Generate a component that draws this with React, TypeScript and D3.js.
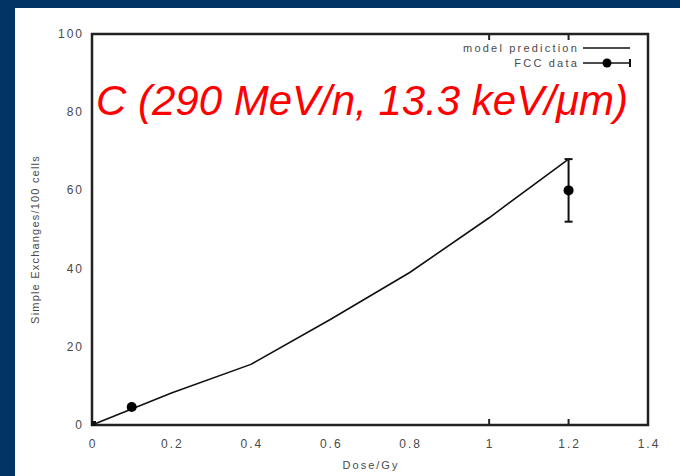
import * as d3 from 'd3';

const modelDose = [0, 0.2, 0.4, 0.6, 0.8, 1.0, 1.2];
const modelValue = [0, 8.2, 15.5, 27, 39, 53, 68];

const dataDose = [0.1, 1.2];
const dataValue = [4.6, 60];
const dataErr = [0.4, 8];

const xTicks = [0, 0.2, 0.4, 0.6, 0.8, 1, 1.2, 1.4];
const xTickLabels = ['0', '0.2', '0.4', '0.6', '0.8', '1', '1.2', '1.4'];
const yTicks = [0, 20, 40, 60, 80, 100];
const xMarkTicks = [1, 1.2];

const W = 680;
const H = 476;
const plot = { left: 92, right: 648, top: 34, bottom: 425 };
const font = '"Liberation Sans", Arial, sans-serif';
const labelColor = '#4a4a4a';

export default function App() {
  const x = d3.scaleLinear().domain([0, 1.4]).range([plot.left, plot.right]);
  const y = d3.scaleLinear().domain([0, 100]).range([plot.bottom, plot.top]);

  const line = d3
    .line<number>()
    .x((d, i) => x(modelDose[i]))
    .y((d) => y(d));

  return (
    <svg
      width={W}
      height={H}
      style={{ position: 'fixed', left: 0, top: 0, display: 'block' }}
      fontFamily={font}
    >
      <rect x={0} y={0} width={W} height={H} fill="#033466" />
      <rect x={15} y={8} width={W - 15} height={H - 8} fill="#ffffff" />

      {/* model line */}
      <path d={line(modelValue) ?? ''} fill="none" stroke="#111" strokeWidth={1.6} />

      {/* data points with error bars */}
      {dataDose.map((d, i) => (
        <g key={i}>
          <line
            x1={x(d)}
            x2={x(d)}
            y1={y(dataValue[i] - dataErr[i])}
            y2={y(dataValue[i] + dataErr[i])}
            stroke="#111"
            strokeWidth={2}
          />
          <line x1={x(d) - 4} x2={x(d) + 4} y1={y(dataValue[i] - dataErr[i])} y2={y(dataValue[i] - dataErr[i])} stroke="#111" strokeWidth={2} />
          <line x1={x(d) - 4} x2={x(d) + 4} y1={y(dataValue[i] + dataErr[i])} y2={y(dataValue[i] + dataErr[i])} stroke="#111" strokeWidth={2} />
          <circle cx={x(d)} cy={y(dataValue[i])} r={5} fill="#000" />
        </g>
      ))}

      {/* frame */}
      <rect
        x={plot.left}
        y={plot.top}
        width={plot.right - plot.left}
        height={plot.bottom - plot.top}
        fill="none"
        stroke="#222"
        strokeWidth={2.5}
      />
      <rect x={plot.left - 1} y={plot.bottom - 4} width={5} height={5} fill="#111" />
      {xMarkTicks.map((t) => (
        <g key={t}>
          <line x1={x(t)} x2={x(t)} y1={plot.bottom} y2={plot.bottom - 6} stroke="#222" strokeWidth={2} />
          <line x1={x(t)} x2={x(t)} y1={plot.top} y2={plot.top + 6} stroke="#222" strokeWidth={2} />
        </g>
      ))}

      {/* tick labels */}
      {xTicks.map((t, i) => (
        <text key={t} x={x(t) + 1} y={448} textAnchor="middle" fontSize={12} letterSpacing={2} fill={labelColor}>
          {xTickLabels[i]}
        </text>
      ))}
      {yTicks.map((t) => (
        <text key={t} x={84} y={y(t) + 4} textAnchor="end" fontSize={12} letterSpacing={2} fill={labelColor}>
          {t}
        </text>
      ))}

      {/* axis labels */}
      <text x={(plot.left + plot.right) / 2 + 1} y={469} textAnchor="middle" fontSize={11} letterSpacing={2} fill={labelColor}>
        Dose/Gy
      </text>
      <text
        transform={`translate(39, ${(plot.top + plot.bottom) / 2 + 10}) rotate(-90)`}
        textAnchor="middle"
        fontSize={11}
        letterSpacing={1.2}
        fill={labelColor}
      >
        Simple Exchanges/100 cells
      </text>

      {/* legend */}
      <text x={579} y={52} textAnchor="end" fontSize={11} letterSpacing={2.2} fill={labelColor}>
        model prediction
      </text>
      <line x1={583} x2={630} y1={48} y2={48} stroke="#111" strokeWidth={1.6} />
      <text x={579} y={67} textAnchor="end" fontSize={11} letterSpacing={2.2} fill={labelColor}>
        FCC data
      </text>
      <line x1={583} x2={630} y1={63} y2={63} stroke="#111" strokeWidth={1.6} />
      <line x1={630} x2={630} y1={59} y2={67} stroke="#111" strokeWidth={2} />
      <circle cx={607} cy={63} r={4.5} fill="#000" />

      {/* title */}
      <text x={96} y={115} fontSize={42} fontStyle="italic" fill="#ff0000">
        C (290 MeV/n, 13.3 keV/μm)
      </text>
    </svg>
  );
}
